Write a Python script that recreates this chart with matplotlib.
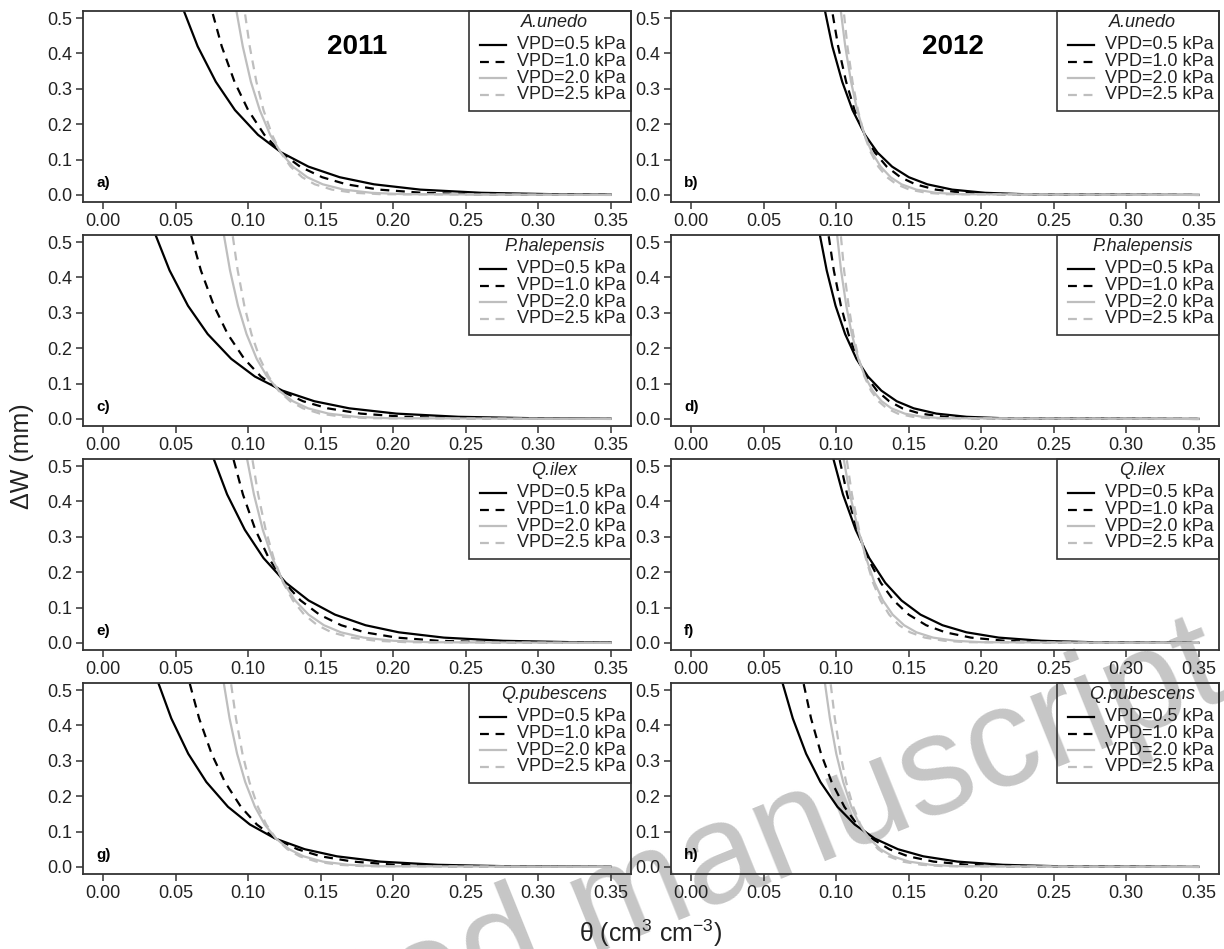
import numpy as np
import matplotlib.pyplot as plt

plt.rcParams['font.family'] = ['Liberation Sans', 'DejaVu Sans']
plt.rcParams['mathtext.fontset'] = 'custom'
plt.rcParams['mathtext.rm'] = 'Liberation Sans'
plt.rcParams['mathtext.it'] = 'Liberation Sans:italic'
plt.rcParams['mathtext.default'] = 'regular'

species = ['A.unedo', 'P.halepensis', 'Q.ilex', 'Q.pubescens']
years = ['2011', '2012']
vpd_labels = ['VPD=0.5 kPa', 'VPD=1.0 kPa', 'VPD=2.0 kPa', 'VPD=2.5 kPa']
panel_tags = [['a)', 'b)'], ['c)', 'd)'], ['e)', 'f)'], ['g)', 'h)']]

# dW levels (mm) at which theta was read for every curve, plus the value at theta=0.35
dw_levels = [0.56, 0.42, 0.32, 0.24, 0.17, 0.12, 0.08, 0.05, 0.03, 0.015, 0.006, 0.002]
theta_end = 0.35

# theta (cm3 cm-3) for each VPD curve, one list per panel
theta_a = [
    [0.0518, 0.0651, 0.0776, 0.0908, 0.1067, 0.1228, 0.1415, 0.1631, 0.1867, 0.2186, 0.2608, 0.3115],
    [0.0723, 0.0817, 0.0905, 0.0999, 0.1111, 0.1225, 0.1357, 0.1510, 0.1677, 0.1902, 0.2201, 0.2559],
    [0.0901, 0.0962, 0.1018, 0.1079, 0.1151, 0.1224, 0.1308, 0.1407, 0.1514, 0.1659, 0.1850, 0.2080],
    [0.0961, 0.1010, 0.1056, 0.1105, 0.1164, 0.1223, 0.1292, 0.1372, 0.1459, 0.1577, 0.1732, 0.1919],
]
tail_a = [0.0009, 0.0001, 0.0, 0.0]

theta_b = [
    [0.0902, 0.0973, 0.1041, 0.1112, 0.1198, 0.1284, 0.1385, 0.1501, 0.1628, 0.1800, 0.2027, 0.2300],
    [0.0955, 0.1013, 0.1068, 0.1126, 0.1196, 0.1266, 0.1348, 0.1443, 0.1546, 0.1686, 0.1871, 0.2093],
    [0.1019, 0.1062, 0.1102, 0.1144, 0.1195, 0.1246, 0.1306, 0.1375, 0.1450, 0.1552, 0.1687, 0.1848],
    [0.1041, 0.1077, 0.1112, 0.1149, 0.1193, 0.1238, 0.1290, 0.1350, 0.1416, 0.1505, 0.1622, 0.1763],
]
tail_b = [0.0, 0.0, 0.0, 0.0]

theta_c = [
    [0.0322, 0.0457, 0.0584, 0.0720, 0.0882, 0.1045, 0.1236, 0.1456, 0.1696, 0.2022, 0.2452, 0.2968],
    [0.0578, 0.0673, 0.0763, 0.0858, 0.0972, 0.1087, 0.1222, 0.1378, 0.1547, 0.1776, 0.2079, 0.2443],
    [0.0815, 0.0874, 0.0929, 0.0988, 0.1058, 0.1129, 0.1212, 0.1308, 0.1412, 0.1554, 0.1741, 0.1965],
    [0.0878, 0.0927, 0.0973, 0.1022, 0.1081, 0.1140, 0.1209, 0.1289, 0.1377, 0.1495, 0.1651, 0.1838],
]
tail_c = [0.0006, 0.0001, 0.0, 0.0]

theta_d = [
    [0.0868, 0.0934, 0.0995, 0.1061, 0.1139, 0.1218, 0.1311, 0.1417, 0.1534, 0.1691, 0.1899, 0.2149],
    [0.0932, 0.0983, 0.1032, 0.1084, 0.1145, 0.1208, 0.1280, 0.1365, 0.1456, 0.1580, 0.1745, 0.1942],
    [0.0995, 0.1033, 0.1069, 0.1107, 0.1152, 0.1198, 0.1251, 0.1313, 0.1380, 0.1472, 0.1592, 0.1737],
    [0.1022, 0.1054, 0.1085, 0.1117, 0.1155, 0.1194, 0.1239, 0.1291, 0.1348, 0.1425, 0.1526, 0.1649],
]
tail_d = [0.0, 0.0, 0.0, 0.0]

theta_e = [
    [0.0725, 0.0854, 0.0976, 0.1105, 0.1260, 0.1416, 0.1598, 0.1809, 0.2038, 0.2349, 0.2759, 0.3252],
    [0.0871, 0.0963, 0.1049, 0.1141, 0.1251, 0.1361, 0.1491, 0.1641, 0.1803, 0.2024, 0.2316, 0.2666],
    [0.0973, 0.1039, 0.1100, 0.1166, 0.1244, 0.1323, 0.1416, 0.1522, 0.1639, 0.1796, 0.2004, 0.2254],
    [0.1012, 0.1068, 0.1120, 0.1175, 0.1241, 0.1308, 0.1386, 0.1477, 0.1575, 0.1708, 0.1885, 0.2096],
]
tail_e = [0.0012, 0.0001, 0.0, 0.0]

theta_f = [
    [0.0954, 0.1046, 0.1134, 0.1227, 0.1338, 0.1450, 0.1581, 0.1733, 0.1898, 0.2121, 0.2417, 0.2771],
    [0.1001, 0.1075, 0.1144, 0.1218, 0.1307, 0.1396, 0.1500, 0.1620, 0.1752, 0.1929, 0.2164, 0.2446],
    [0.1034, 0.1094, 0.1151, 0.1206, 0.1264, 0.1322, 0.1389, 0.1468, 0.1553, 0.1668, 0.1821, 0.2004],
    [0.1057, 0.1108, 0.1157, 0.1203, 0.1254, 0.1305, 0.1365, 0.1434, 0.1509, 0.1611, 0.1746, 0.1908],
]
tail_f = [0.0001, 0.0, 0.0, 0.0]

theta_g = [
    [0.0344, 0.0469, 0.0586, 0.0711, 0.0860, 0.1011, 0.1187, 0.1390, 0.1611, 0.1911, 0.2308, 0.2783],
    [0.0569, 0.0661, 0.0747, 0.0839, 0.0949, 0.1059, 0.1189, 0.1339, 0.1501, 0.1722, 0.2014, 0.2364],
    [0.0815, 0.0871, 0.0923, 0.0979, 0.1046, 0.1113, 0.1192, 0.1282, 0.1381, 0.1515, 0.1692, 0.1905],
    [0.0867, 0.0915, 0.0960, 0.1008, 0.1066, 0.1124, 0.1192, 0.1270, 0.1355, 0.1471, 0.1623, 0.1806],
]
tail_g = [0.0004, 0.0001, 0.0, 0.0]

theta_h = [
    [0.0601, 0.0700, 0.0792, 0.0891, 0.1008, 0.1127, 0.1266, 0.1426, 0.1600, 0.1837, 0.2150, 0.2525],
    [0.0753, 0.0826, 0.0895, 0.0968, 0.1056, 0.1144, 0.1247, 0.1366, 0.1496, 0.1672, 0.1905, 0.2183],
    [0.0908, 0.0956, 0.1000, 0.1048, 0.1104, 0.1161, 0.1228, 0.1305, 0.1389, 0.1503, 0.1653, 0.1834],
    [0.0949, 0.0990, 0.1028, 0.1068, 0.1117, 0.1166, 0.1223, 0.1289, 0.1361, 0.1459, 0.1588, 0.1743],
]
tail_h = [0.0001, 0.0, 0.0, 0.0]

theta_sets = [[theta_a, theta_b], [theta_c, theta_d], [theta_e, theta_f], [theta_g, theta_h]]
tail_sets = [[tail_a, tail_b], [tail_c, tail_d], [tail_e, tail_f], [tail_g, tail_h]]

x_ticks = [0.00, 0.05, 0.10, 0.15, 0.20, 0.25, 0.30, 0.35]
y_ticks = [0.0, 0.1, 0.2, 0.3, 0.4, 0.5]

line_colors = ['black', 'black', '#bebebe', '#bebebe']
line_styles = ['-', (0, (4, 3)), '-', (0, (4, 3))]
lw = 1.6
frame_col = '#333333'


def draw_key(ax, name):
    # boxed key in the upper right corner, drawn in axes fraction
    ax.add_patch(plt.Rectangle((0.705, 0.476), 0.295, 0.524, transform=ax.transAxes,
                               fill=False, ec=frame_col, lw=1.2, clip_on=False, zorder=5))
    ax.text(0.86, 0.94, name, transform=ax.transAxes, ha='center', va='center',
            fontsize=13, style='italic', color='#222222')
    for k, lab in enumerate(vpd_labels):
        yy = 0.822 - k * 0.087
        ax.plot([0.7245, 0.772], [yy, yy], transform=ax.transAxes, color=line_colors[k],
                linestyle=line_styles[k], lw=lw, clip_on=False)
        ax.text(0.792, yy, lab, transform=ax.transAxes, ha='left', va='center',
                fontsize=13, color='#222222')


fig = plt.figure(figsize=(12.24, 9.49), dpi=100)
fig.patch.set_facecolor('white')

col_left = [83 / 1224, 671 / 1224]
ax_w = 548 / 1224
row_top = [11, 235, 459, 683]
ax_h = 191 / 949

for r in range(4):
    for c in range(2):
        bottom = 1 - (row_top[r] + 191) / 949
        ax = fig.add_axes([col_left[c], bottom, ax_w, ax_h])
        ax.set_facecolor('none')

        th = theta_sets[r][c]
        tl = tail_sets[r][c]
        for k in range(4):
            ax.plot(th[k] + [theta_end], dw_levels + [tl[k]], color=line_colors[k],
                    linestyle=line_styles[k], lw=lw)

        ax.set_xlim(-0.014, 0.364)
        ax.set_ylim(-0.02, 0.52)
        ax.set_xticks(x_ticks)
        ax.set_xticklabels(['%.2f' % v for v in x_ticks])
        ax.set_yticks(y_ticks)
        ax.set_yticklabels(['%.1f' % v for v in y_ticks])
        ax.tick_params(direction='out', length=5, width=1.1, colors=frame_col,
                       labelsize=13, labelcolor='#222222', pad=3)
        for sp in ax.spines.values():
            sp.set_color(frame_col)
            sp.set_linewidth(1.3)

        ax.text(0.024, 0.1, panel_tags[r][c], transform=ax.transAxes, fontsize=11,
                fontweight='bold', ha='left', va='center')
        draw_key(ax, species[r])
        if r == 0:
            ax.text(0.5 if c == 0 else 0.515, 0.81, years[c], transform=ax.transAxes,
                    fontsize=20, fontweight='bold', ha='center', va='center')

fig.text(22 / 1224, 1 - 456 / 949, 'ΔW (mm)', rotation=90, ha='center', va='center',
         fontsize=18, color='#222222')
fig.text(651 / 1224, 1 - 933 / 949, 'θ (cm$^{3}$ cm$^{-3}$)', ha='center', va='center',
         fontsize=18, color='#222222')

# faint stamp across the lower part of the page
fig.text(1232 / 1224, 1 - 697 / 949, 'Accepted manuscript', rotation=22,
         rotation_mode='anchor', ha='right', va='baseline', fontsize=102,
         color='#c6c6c6', zorder=-1)

fig.savefig('out.png', dpi=100)
